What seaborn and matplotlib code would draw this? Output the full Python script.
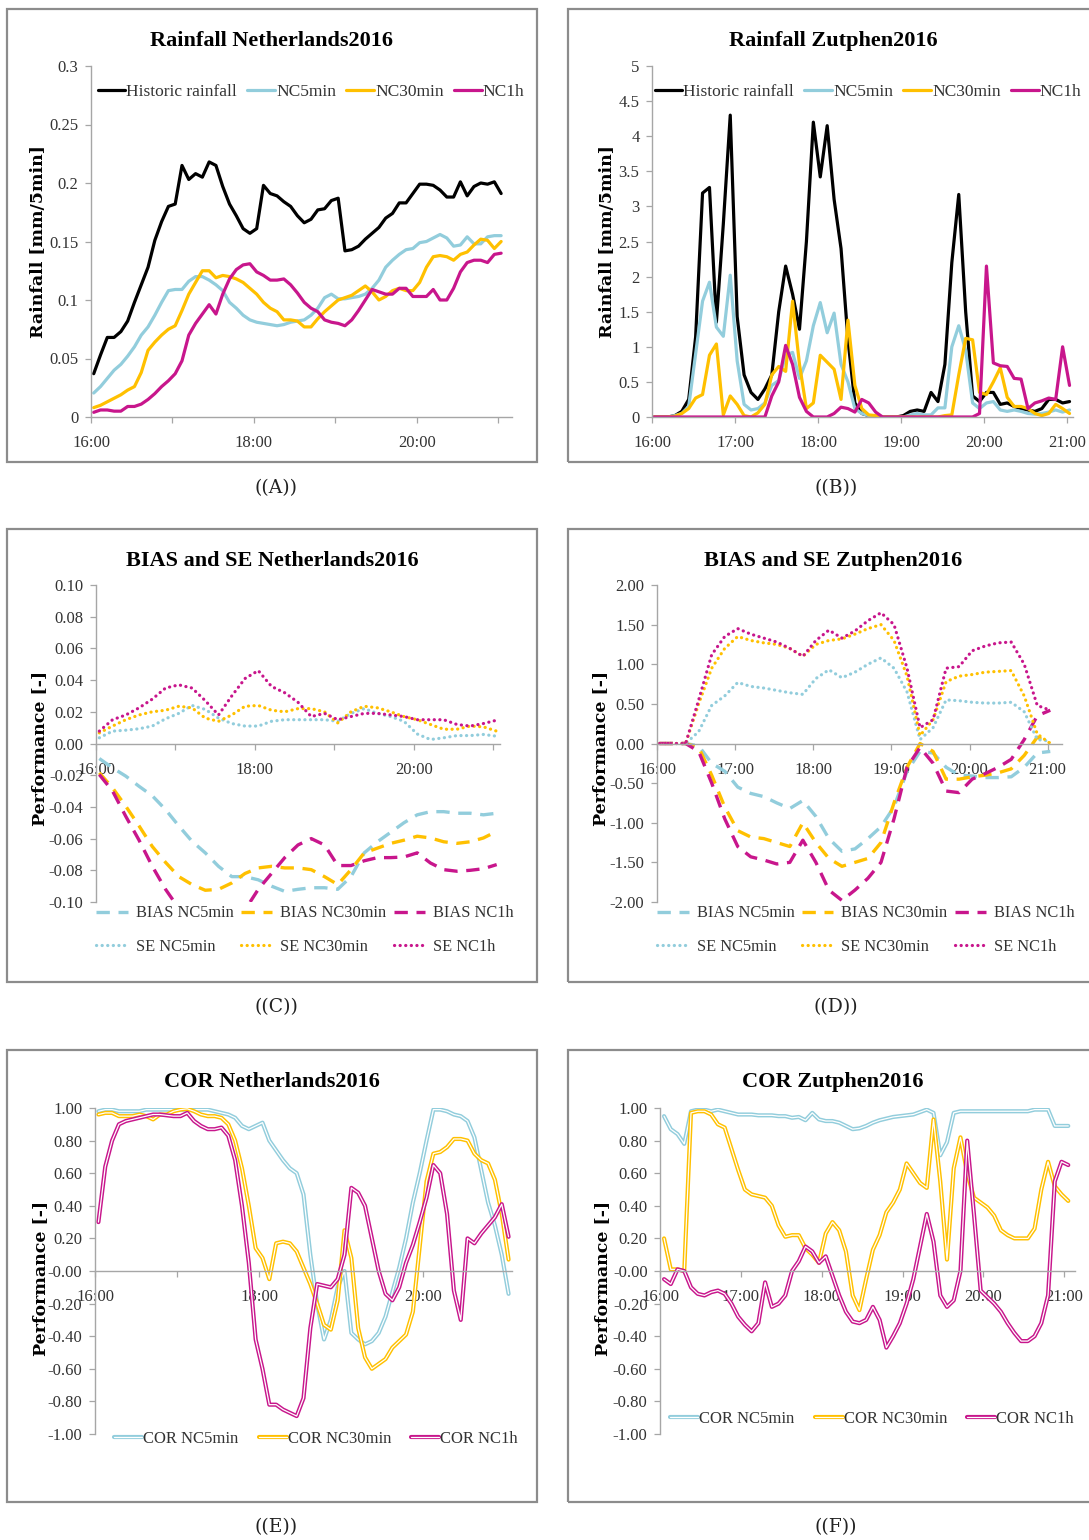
import numpy as np
import matplotlib
matplotlib.use("Agg")
import matplotlib.pyplot as plt
import matplotlib.patheffects as pe
from matplotlib.patches import Rectangle
from matplotlib.ticker import FuncFormatter
import seaborn as sns

# ---------------------------------------------------------------- data
HOUR_LABELS = ["16:00", "17:00", "18:00", "19:00", "20:00", "21:00"]
SERIES = ["NC5min", "NC30min", "NC1h"]

# (A) Rainfall Netherlands2016, mm/5min, 5-min steps from 16:00
nl_rain_hist = [0.037, 0.053, 0.068, 0.068, 0.073, 0.082, 0.098, 0.113, 0.128, 0.151,
                0.167, 0.180, 0.182, 0.215, 0.203, 0.208, 0.205, 0.218, 0.215, 0.197,
                0.182, 0.172, 0.161, 0.157, 0.161, 0.198, 0.191, 0.189, 0.184, 0.180,
                0.172, 0.166, 0.169, 0.177, 0.178, 0.185, 0.187, 0.142, 0.143, 0.146,
                0.152, 0.157, 0.162, 0.170, 0.174, 0.183, 0.183, 0.191, 0.199, 0.199,
                0.198, 0.194, 0.188, 0.188, 0.201, 0.189, 0.197, 0.200, 0.199, 0.201, 0.191]
nl_rain_nc5 = [0.0205, 0.026, 0.033, 0.040, 0.045, 0.052, 0.060, 0.070, 0.077, 0.087,
               0.098, 0.108, 0.109, 0.109, 0.116, 0.120, 0.120, 0.117, 0.113, 0.108,
               0.098, 0.093, 0.087, 0.083, 0.081, 0.080, 0.079, 0.078, 0.079, 0.081,
               0.082, 0.083, 0.087, 0.093, 0.102, 0.105, 0.101, 0.101, 0.102, 0.103,
               0.105, 0.110, 0.117, 0.128, 0.134, 0.139, 0.143, 0.144, 0.149, 0.150,
               0.153, 0.156, 0.153, 0.146, 0.147, 0.154, 0.148, 0.148, 0.154, 0.155, 0.155]
nl_rain_nc30 = [0.008, 0.010, 0.013, 0.016, 0.019, 0.023, 0.026, 0.038, 0.057, 0.064,
                0.070, 0.075, 0.078, 0.091, 0.105, 0.115, 0.125, 0.125, 0.119, 0.121,
                0.120, 0.118, 0.115, 0.110, 0.105, 0.098, 0.093, 0.090, 0.083, 0.083,
                0.082, 0.077, 0.077, 0.084, 0.090, 0.095, 0.100, 0.102, 0.104, 0.108,
                0.112, 0.107, 0.100, 0.103, 0.108, 0.110, 0.108, 0.108, 0.115, 0.128,
                0.137, 0.138, 0.137, 0.134, 0.139, 0.141, 0.147, 0.152, 0.151, 0.144, 0.150]
nl_rain_nc1h = [0.004, 0.006, 0.006, 0.005, 0.005, 0.009, 0.009, 0.011, 0.015, 0.020,
                0.026, 0.031, 0.037, 0.048, 0.070, 0.080, 0.088, 0.096, 0.088, 0.105,
                0.118, 0.126, 0.130, 0.131, 0.124, 0.121, 0.117, 0.117, 0.118, 0.113,
                0.106, 0.098, 0.093, 0.090, 0.083, 0.081, 0.080, 0.078, 0.083, 0.091,
                0.100, 0.109, 0.107, 0.105, 0.105, 0.110, 0.110, 0.103, 0.103, 0.103,
                0.109, 0.100, 0.100, 0.110, 0.124, 0.132, 0.134, 0.134, 0.132, 0.139, 0.140]

# (B) Rainfall Zutphen2016
zu_rain_hist = [0, 0, 0, 0.02, 0.08, 0.25, 1.14, 3.19, 3.27, 1.35,
                2.75, 4.3, 1.43, 0.6, 0.35, 0.25, 0.4, 0.6, 1.5, 2.15,
                1.75, 1.25, 2.5, 4.2, 3.42, 4.15, 3.1, 2.4, 1.1, 0.2,
                0.05, 0.02, 0, 0, 0, 0, 0.02, 0.08, 0.1, 0.08,
                0.35, 0.22, 0.75, 2.2, 3.17, 1.5, 0.3, 0.22, 0.35, 0.35,
                0.18, 0.2, 0.15, 0.12, 0.1, 0.08, 0.12, 0.25, 0.25, 0.2, 0.22]
zu_rain_nc5 = [0, 0, 0, 0.02, 0.05, 0.15, 0.9, 1.65, 1.92, 1.28,
               1.15, 2.02, 0.8, 0.18, 0.1, 0.12, 0.2, 0.45, 0.52, 0.88,
               0.92, 0.55, 0.8, 1.3, 1.63, 1.2, 1.48, 0.75, 0.5, 0.12,
               0.05, 0.02, 0, 0, 0, 0, 0, 0.03, 0.05, 0.03,
               0.03, 0.13, 0.13, 1.0, 1.3, 0.95, 0.2, 0.12, 0.2, 0.22,
               0.1, 0.08, 0.1, 0.08, 0.05, 0.04, 0.05, 0.07, 0.1, 0.07, 0.1]
zu_rain_nc30 = [0, 0, 0, 0.01, 0.05, 0.12, 0.27, 0.32, 0.88, 1.04,
                0.03, 0.3, 0.18, 0.02, 0, 0.06, 0.18, 0.6, 0.72, 0.65,
                1.65, 0.75, 0.12, 0.2, 0.88, 0.78, 0.68, 0.25, 1.38, 0.45,
                0.12, 0.03, 0.02, 0, 0, 0, 0, 0, 0, 0,
                0, 0, 0.02, 0.03, 0.6, 1.12, 1.1, 0.35, 0.32, 0.5,
                0.7, 0.28, 0.15, 0.15, 0.12, 0.05, 0.02, 0.05, 0.18, 0.12, 0.05]
zu_rain_nc1h = [0, 0, 0, 0, 0, 0, 0, 0, 0, 0,
                0, 0, 0, 0, 0, 0, 0, 0.3, 0.5, 1.02,
                0.75, 0.28, 0.08, 0, 0, 0, 0.05, 0.14, 0.12, 0.07,
                0.25, 0.2, 0.07, 0, 0, 0, 0, 0, 0, 0,
                0, 0, 0, 0, 0, 0, 0, 0.05, 2.15, 0.77,
                0.73, 0.72, 0.55, 0.54, 0.12, 0.2, 0.23, 0.27, 0.25, 1.0, 0.45]

# (C) BIAS and SE Netherlands2016, 10-min steps
nl_bias_nc5 = [-0.0095, -0.0154, -0.0206, -0.027, -0.033, -0.0417, -0.052, -0.0617, -0.069, -0.0775,
               -0.084, -0.084, -0.086, -0.090, -0.0933, -0.092, -0.091, -0.091, -0.092, -0.084,
               -0.069, -0.062, -0.056, -0.050, -0.045, -0.043, -0.043, -0.044, -0.044, -0.045, -0.044]
nl_bias_nc30 = [-0.0185, -0.028, -0.0396, -0.052, -0.065, -0.075, -0.084, -0.089, -0.0926, -0.092,
                -0.088, -0.082, -0.0785, -0.0775, -0.0785, -0.0785, -0.0796, -0.084, -0.089, -0.0796,
                -0.069, -0.066, -0.063, -0.061, -0.0585, -0.0596, -0.062, -0.063, -0.062, -0.0596, -0.0554]
nl_bias_nc1h = [-0.0196, -0.030, -0.046, -0.061, -0.0775, -0.092, -0.104, -0.112, -0.115, -0.115,
                -0.110, -0.105, -0.092, -0.082, -0.072, -0.064, -0.060, -0.064, -0.077, -0.077,
                -0.074, -0.072, -0.072, -0.0716, -0.069, -0.0754, -0.0796, -0.0806, -0.080, -0.079, -0.0764]
nl_se_nc5 = [0.0036, 0.0078, 0.0084, 0.0093, 0.011, 0.0156, 0.019, 0.024, 0.0215, 0.016,
             0.0126, 0.011, 0.011, 0.014, 0.015, 0.015, 0.015, 0.015, 0.014, 0.019,
             0.022, 0.019, 0.017, 0.014, 0.006, 0.0025, 0.0036, 0.005, 0.005, 0.0057, 0.0046]
nl_se_nc30 = [0.0067, 0.011, 0.015, 0.018, 0.020, 0.021, 0.0235, 0.0225, 0.016, 0.014,
              0.018, 0.0235, 0.024, 0.021, 0.020, 0.022, 0.022, 0.020, 0.013, 0.020,
              0.0235, 0.0225, 0.020, 0.017, 0.015, 0.012, 0.009, 0.009, 0.011, 0.0105, 0.0078]
nl_se_nc1h = [0.0078, 0.015, 0.018, 0.0225, 0.028, 0.035, 0.037, 0.035, 0.027, 0.018,
              0.030, 0.041, 0.046, 0.036, 0.032, 0.026, 0.017, 0.019, 0.015, 0.017,
              0.019, 0.019, 0.018, 0.017, 0.015, 0.015, 0.015, 0.012, 0.011, 0.0126, 0.0147]

# (D) BIAS and SE Zutphen2016, 10-min steps
zu_bias_nc5 = [0, 0, 0, -0.03, -0.25, -0.35, -0.55, -0.63, -0.67, -0.75,
               -0.82, -0.72, -0.92, -1.2, -1.36, -1.33, -1.2, -1.05, -0.8, -0.35,
               -0.1, -0.12, -0.3, -0.4, -0.41, -0.43, -0.43, -0.42, -0.3, -0.12, -0.1]
zu_bias_nc30 = [0, 0, 0, -0.05, -0.4, -0.8, -1.1, -1.18, -1.2, -1.25,
                -1.3, -1.0, -1.25, -1.45, -1.55, -1.5, -1.45, -1.25, -0.75, -0.3,
                0.0, -0.1, -0.45, -0.45, -0.42, -0.4, -0.37, -0.32, -0.15, 0.08, 0.0]
zu_bias_nc1h = [0, 0, 0, -0.1, -0.5, -0.95, -1.3, -1.43, -1.47, -1.52,
                -1.5, -1.22, -1.5, -1.85, -1.98, -1.85, -1.7, -1.5, -0.95, -0.3,
                -0.05, -0.25, -0.6, -0.62, -0.45, -0.38, -0.3, -0.2, 0.05, 0.35, 0.42]
zu_se_nc5 = [0, 0, 0, 0.15, 0.48, 0.6, 0.77, 0.72, 0.7, 0.67,
             0.64, 0.62, 0.82, 0.93, 0.83, 0.9, 1.0, 1.08, 0.95, 0.65,
             0.05, 0.2, 0.55, 0.54, 0.52, 0.51, 0.51, 0.52, 0.4, 0.05, 0.03]
zu_se_nc30 = [0, 0, 0, 0.5, 0.95, 1.2, 1.35, 1.3, 1.27, 1.25,
              1.2, 1.1, 1.25, 1.3, 1.32, 1.38, 1.45, 1.5, 1.3, 0.85,
              0.1, 0.3, 0.78, 0.85, 0.87, 0.9, 0.91, 0.92, 0.6, 0.12, 0.0]
zu_se_nc1h = [0, 0, 0, 0.55, 1.12, 1.35, 1.45, 1.38, 1.33, 1.28,
              1.2, 1.1, 1.3, 1.43, 1.33, 1.42, 1.55, 1.65, 1.5, 0.95,
              0.2, 0.3, 0.95, 0.97, 1.17, 1.23, 1.27, 1.28, 1.0, 0.48, 0.42]

# (E) COR Netherlands2016, 5-min steps
nl_cor_nc5 = [0.98, 0.99, 0.99, 0.98, 0.98, 0.98, 0.98, 0.99, 0.99, 0.99,
              0.99, 0.99, 0.99, 0.99, 0.99, 0.99, 0.99, 0.98, 0.97, 0.96,
              0.94, 0.89, 0.87, 0.89, 0.91, 0.80, 0.74, 0.68, 0.63, 0.60,
              0.47, 0.10, -0.20, -0.42, -0.30, -0.10, 0.00, -0.38, -0.42, -0.45,
              -0.43, -0.38, -0.28, -0.13, 0.02, 0.20, 0.42, 0.60, 0.80, 0.99,
              0.99, 0.98, 0.96, 0.95, 0.92, 0.82, 0.62, 0.42, 0.28, 0.10, -0.14]
nl_cor_nc30 = [0.96, 0.97, 0.97, 0.95, 0.95, 0.95, 0.96, 0.95, 0.93, 0.96,
               0.96, 0.98, 0.99, 0.995, 0.98, 0.96, 0.95, 0.95, 0.94, 0.90,
               0.80, 0.63, 0.40, 0.14, 0.08, -0.05, 0.17, 0.18, 0.17, 0.12,
               0.02, -0.08, -0.20, -0.33, -0.36, -0.18, 0.25, 0.08, -0.35, -0.53,
               -0.60, -0.57, -0.54, -0.47, -0.43, -0.39, -0.25, 0.15, 0.55, 0.72,
               0.73, 0.76, 0.81, 0.81, 0.80, 0.72, 0.68, 0.66, 0.56, 0.35, 0.07]
nl_cor_nc1h = [0.30, 0.64, 0.80, 0.90, 0.92, 0.93, 0.94, 0.95, 0.96, 0.96,
               0.955, 0.95, 0.95, 0.97, 0.92, 0.89, 0.87, 0.87, 0.88, 0.83,
               0.68, 0.40, 0.05, -0.42, -0.60, -0.82, -0.82, -0.85, -0.87, -0.89,
               -0.78, -0.35, -0.08, -0.09, -0.10, -0.05, 0.10, 0.51, 0.48, 0.40,
               0.20, 0.00, -0.14, -0.18, -0.10, 0.05, 0.16, 0.30, 0.45, 0.65,
               0.60, 0.35, -0.12, -0.30, 0.20, 0.17, 0.23, 0.28, 0.33, 0.41, 0.21]

# (F) COR Zutphen2016, 5-min steps
zu_cor_nc5 = [0.95, 0.87, 0.84, 0.78, 0.98, 0.99, 0.99, 0.98, 0.99, 0.98,
              0.97, 0.96, 0.96, 0.96, 0.955, 0.955, 0.955, 0.95, 0.95, 0.94,
              0.945, 0.925, 0.97, 0.93, 0.92, 0.92, 0.91, 0.89, 0.87, 0.875,
              0.89, 0.91, 0.925, 0.935, 0.945, 0.95, 0.955, 0.96, 0.975, 0.99,
              0.97, 0.71, 0.79, 0.97, 0.98, 0.98, 0.98, 0.98, 0.98, 0.98,
              0.98, 0.98, 0.98, 0.98, 0.98, 0.99, 0.99, 0.99, 0.89, 0.89, 0.89]
zu_cor_nc30 = [0.20, 0.01, 0.01, 0.00, 0.97, 0.98, 0.98, 0.96, 0.90, 0.88,
               0.75, 0.62, 0.50, 0.47, 0.46, 0.45, 0.40, 0.28, 0.21, 0.22,
               0.22, 0.14, 0.10, 0.05, 0.23, 0.30, 0.25, 0.12, -0.15, -0.24,
               -0.05, 0.13, 0.22, 0.36, 0.42, 0.50, 0.66, 0.60, 0.54, 0.51,
               0.93, 0.55, 0.07, 0.63, 0.82, 0.60, 0.45, 0.42, 0.39, 0.34,
               0.25, 0.22, 0.20, 0.20, 0.20, 0.26, 0.50, 0.67, 0.52, 0.47, 0.43]
zu_cor_nc1h = [-0.05, -0.08, 0.01, 0.00, -0.10, -0.14, -0.15, -0.13, -0.12, -0.14,
               -0.20, -0.28, -0.33, -0.37, -0.32, -0.07, -0.22, -0.20, -0.15, 0.00,
               0.06, 0.15, 0.12, 0.05, 0.09, -0.03, -0.15, -0.25, -0.31, -0.32,
               -0.30, -0.22, -0.30, -0.47, -0.40, -0.32, -0.20, -0.05, 0.15, 0.35,
               0.18, -0.15, -0.22, -0.18, 0.00, 0.80, 0.35, -0.12, -0.16, -0.20,
               -0.25, -0.32, -0.38, -0.43, -0.43, -0.40, -0.32, -0.15, 0.55, 0.67, 0.65]

# ---------------------------------------------------------------- style
sns.set_theme(style="white")
plt.rcParams["font.family"] = ["Liberation Serif", "DejaVu Serif"]
plt.rcParams["axes.unicode_minus"] = False

BLACK = "#000000"
BLUE = "#92CDDC"
GOLD = "#FFC000"
MAGENTA = "#C8168C"
COLORS = {"NC5min": BLUE, "NC30min": GOLD, "NC1h": MAGENTA}
AX_GRAY = "#A6A6A6"
TXT = "#333333"
BOX = "#8C8C8C"

W, H = 1089, 1540
fig = plt.figure(figsize=(W / 100, H / 100), dpi=100)


def fx(px):
    return px / W


def fy(py):
    return 1 - py / H


def make_axes(l, r, t, b):
    return fig.add_axes([fx(l), fy(b), (r - l) / W, (b - t) / H])


def box(l, r, t, b):
    fig.add_artist(Rectangle((fx(l), fy(b)), (r - l) / W, (b - t) / H,
                             transform=fig.transFigure, fill=False,
                             ec=BOX, lw=1.6, zorder=0))


def style_axes(ax, xmax, every_hour, ylim, yticks, yfmt, zero_axis):
    ax.set_facecolor("none")
    ax.grid(False)
    for s in ["top", "right"]:
        ax.spines[s].set_visible(False)
    for s in ["left", "bottom"]:
        ax.spines[s].set_color(AX_GRAY)
        ax.spines[s].set_linewidth(1.0)
    if zero_axis:
        ax.spines["bottom"].set_position(("data", 0))
    ax.set_xlim(0, xmax)
    ax.set_ylim(*ylim)
    ax.set_xticks([60 * k for k in range(len(HOUR_LABELS))])
    labels = [lab if (every_hour or k % 2 == 0) else "" for k, lab in enumerate(HOUR_LABELS)]
    ax.set_xticklabels(labels)
    ax.set_yticks(yticks)
    ax.yaxis.set_major_formatter(FuncFormatter(yfmt))
    ax.tick_params(axis="both", which="major", direction="out", length=4, width=0.9,
                   color=AX_GRAY, labelsize=12, labelcolor=TXT,
                   bottom=True, left=True)
    ax.tick_params(axis="y", pad=5)
    ax.tick_params(axis="x", pad=9)
    ax.set_xlabel("")
    ax.set_ylabel("")


def title(x, y, s):
    fig.text(fx(x), fy(y), s, ha="center", va="center", fontsize=16,
             fontweight="bold", color="black", family=["Liberation Serif", "DejaVu Serif"])


def ylabel(x, y, s):
    fig.text(fx(x), fy(y), s, ha="center", va="center", rotation=90, fontsize=12.5,
             fontweight="bold", color="black", family=["DejaVu Serif"])


def caption(x, y, s):
    fig.text(fx(x), fy(y), s, ha="center", va="center", fontsize=13.5,
             color="#222222", family=["DejaVu Serif"])


def times(vals, offset, step):
    return offset + step * np.arange(len(vals))


# ---------------------------------------------------------------- (A) & (B) rainfall
def rain_panel(ax, hist, nc5, nc30, nc1h, offset, xmax, every_hour, ylim, yticks, yfmt, leg_xy):
    for name, vals, col in [("Historic rainfall", hist, BLACK), ("NC5min", nc5, BLUE),
                            ("NC30min", nc30, GOLD), ("NC1h", nc1h, MAGENTA)]:
        sns.lineplot(x=times(vals, offset, 5), y=vals, ax=ax, color=col, linewidth=2.3,
                     label=name, errorbar=None)
    style_axes(ax, xmax, every_hour, ylim, yticks, yfmt, False)
    h, l = ax.get_legend_handles_labels()
    ax.legend(h, l, loc="center", bbox_to_anchor=(fx(leg_xy[0]), fy(leg_xy[1])),
              bbox_transform=fig.transFigure, ncol=4, frameon=False, fontsize=12.5,
              handlelength=1.6, handletextpad=0.05, columnspacing=0.6, labelcolor=TXT)


box(7, 537, 9, 462)
title(272, 41, "Rainfall Netherlands2016")
axA = make_axes(91, 512, 66, 417)
rain_panel(axA, nl_rain_hist, nl_rain_nc5, nl_rain_nc30, nl_rain_nc1h, 2, 310, False,
           (0, 0.3), [0, 0.05, 0.10, 0.15, 0.20, 0.25, 0.30], lambda v, p: f"{v:g}", (311, 92))
ylabel(39, 242, "Rainfall [mm/5min]")
caption(276, 488, "((A))")

box(568, 1100, 9, 462)
title(833, 41, "Rainfall Zutphen2016")
axB = make_axes(652, 1073, 66, 417)
rain_panel(axB, zu_rain_hist, zu_rain_nc5, zu_rain_nc30, zu_rain_nc1h, 1.5, 304, True,
           (0, 5), [0, 0.5, 1, 1.5, 2, 2.5, 3, 3.5, 4, 4.5, 5], lambda v, p: f"{v:g}", (868, 92))
ylabel(607, 242, "Rainfall [mm/5min]")
caption(836, 488, "((B))")


# ---------------------------------------------------------------- (C) & (D) BIAS and SE
def perf_panel(ax, bias, se, offset, xmax, every_hour, ylim, yticks, leg_xy):
    dash = (0, (4.0, 2.6))
    dot = (0, (0.05, 1.7))
    for name, vals in zip(SERIES, bias):
        sns.lineplot(x=times(vals, offset, 10), y=vals, ax=ax, color=COLORS[name],
                     linewidth=2.4, linestyle=dash, label="BIAS " + name, errorbar=None)
    for name, vals in zip(SERIES, se):
        sns.lineplot(x=times(vals, offset, 10), y=vals, ax=ax, color=COLORS[name],
                     linewidth=2.3, linestyle=dot, dash_capstyle="round",
                     label="SE " + name, errorbar=None)
    style_axes(ax, xmax, every_hour, ylim, yticks, lambda v, p: f"{v:.2f}", True)
    h, l = ax.get_legend_handles_labels()
    d = dict(zip(l, h))
    order = []
    for name in SERIES:
        order += ["BIAS " + name, "SE " + name]
    ax.legend([d[k] for k in order], order, loc="center",
              bbox_to_anchor=(fx(leg_xy[0]), fy(leg_xy[1])), bbox_transform=fig.transFigure,
              ncol=3, frameon=False, fontsize=11.8, handlelength=1.9, handletextpad=0.5,
              columnspacing=0.45, labelspacing=1.05, labelcolor=TXT)


box(7, 537, 529, 982)
title(272, 561, "BIAS and SE Netherlands2016")
axC = make_axes(96, 500, 585, 902)
perf_panel(axC, [nl_bias_nc5, nl_bias_nc30, nl_bias_nc1h], [nl_se_nc5, nl_se_nc30, nl_se_nc1h],
           2.5, 305, False, (-0.10, 0.10), np.round(np.arange(-0.10, 0.101, 0.02), 2), (305, 930))
ylabel(40, 748, "Performance [-]")
caption(276, 1007, "((C))")

box(568, 1100, 529, 982)
title(833, 561, "BIAS and SE Zutphen2016")
axD = make_axes(657, 1062, 585, 902)
perf_panel(axD, [zu_bias_nc5, zu_bias_nc30, zu_bias_nc1h], [zu_se_nc5, zu_se_nc30, zu_se_nc1h],
           2, 311, True, (-2.0, 2.0), np.round(np.arange(-2.0, 2.01, 0.5), 2), (866, 930))
ylabel(601, 748, "Performance [-]")
caption(836, 1007, "((D))")


# ---------------------------------------------------------------- (E) & (F) COR
def cor_panel(ax, cors, offset, xmax, every_hour, leg_xy):
    for name, vals in zip(SERIES, cors):
        sns.lineplot(x=times(vals, offset, 5), y=vals, ax=ax, color="white", linewidth=0.9,
                     label="COR " + name, errorbar=None,
                     path_effects=[pe.Stroke(linewidth=3.0, foreground=COLORS[name]), pe.Normal()])
    style_axes(ax, xmax, every_hour, (-1.0, 1.0), np.round(np.arange(-1.0, 1.01, 0.2), 2),
               lambda v, p: f"{v:.2f}", True)
    h, l = ax.get_legend_handles_labels()
    ax.legend(h, l, loc="center", bbox_to_anchor=(fx(leg_xy[0]), fy(leg_xy[1])),
              bbox_transform=fig.transFigure, ncol=3, frameon=False, fontsize=12,
              handlelength=1.7, handletextpad=0.05, columnspacing=1.2, labelcolor=TXT)


box(7, 537, 1050, 1502)
title(272, 1082, "COR Netherlands2016")
axE = make_axes(95, 512, 1108, 1434)
cor_panel(axE, [nl_cor_nc5, nl_cor_nc30, nl_cor_nc1h], 2.5, 305, False, (316, 1439))
ylabel(41, 1278, "Performance [-]")
caption(276, 1527, "((E))")

box(568, 1100, 1050, 1502)
title(833, 1082, "COR Zutphen2016")
axF = make_axes(660, 1075, 1108, 1434)
cor_panel(axF, [zu_cor_nc5, zu_cor_nc30, zu_cor_nc1h], 3, 308, True, (872, 1419))
ylabel(603, 1278, "Performance [-]")
caption(836, 1527, "((F))")

fig.savefig("out.png", dpi=100)
